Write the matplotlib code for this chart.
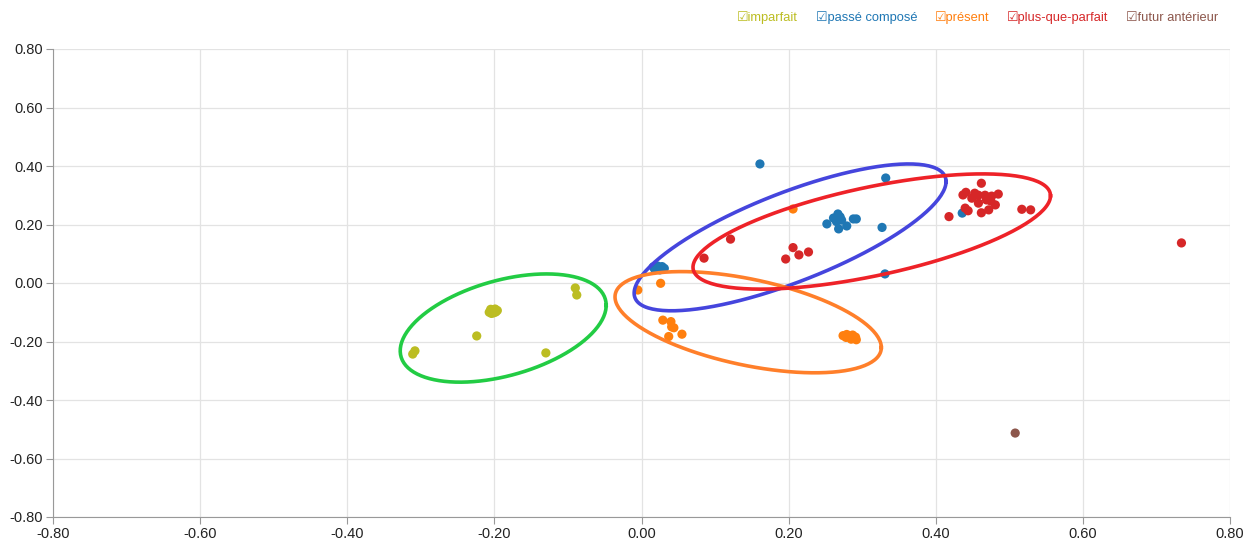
import numpy as np
import matplotlib
matplotlib.use('Agg')
import matplotlib.pyplot as plt

# scatter coordinates for each tense
imparfait_x = [-0.205, -0.202, -0.199, -0.196, -0.207, -0.201, -0.198, -0.204,
               -0.224, -0.308, -0.311, -0.090, -0.088, -0.130]
imparfait_y = [-0.090, -0.092, -0.089, -0.094, -0.100, -0.102, -0.099, -0.104,
               -0.181, -0.232, -0.243, -0.017, -0.041, -0.239]

passe_x = [0.016, 0.022, 0.028, 0.018, 0.025, 0.031, 0.020,
           0.161, 0.332, 0.252, 0.261, 0.267, 0.265, 0.268, 0.279, 0.288,
           0.292, 0.272, 0.270, 0.327, 0.331, 0.436]
passe_y = [0.055, 0.058, 0.056, 0.047, 0.045, 0.050, 0.052,
           0.407, 0.359, 0.202, 0.222, 0.236, 0.210, 0.185, 0.195, 0.219,
           0.219, 0.215, 0.226, 0.190, 0.031, 0.239]

present_x = [0.206, 0.026, -0.005, 0.029, 0.040, 0.041, 0.044, 0.037, 0.055,
             0.274, 0.279, 0.283, 0.287, 0.291, 0.285, 0.278, 0.292]
present_y = [0.253, -0.001, -0.024, -0.127, -0.132, -0.150, -0.153, -0.183, -0.175,
             -0.180, -0.176, -0.182, -0.178, -0.185, -0.192, -0.186, -0.194]

pqp_x = [0.734, 0.085, 0.121, 0.206, 0.196, 0.214, 0.227,
         0.462, 0.418, 0.437, 0.449, 0.458, 0.467, 0.476, 0.485, 0.440, 0.444,
         0.458, 0.462, 0.472, 0.481, 0.469, 0.453, 0.517, 0.529, 0.441, 0.475]
pqp_y = [0.137, 0.085, 0.150, 0.121, 0.082, 0.096, 0.106,
         0.341, 0.227, 0.301, 0.290, 0.300, 0.300, 0.297, 0.304, 0.256, 0.247,
         0.273, 0.240, 0.250, 0.267, 0.284, 0.307, 0.252, 0.250, 0.310, 0.280]

futur_x = [0.508]
futur_y = [-0.513]

# ellipses: centre x, centre y, sd x, sd y, correlation
ell_params = {
    'imparfait': (-0.188, -0.154, 0.140, 0.185, 0.42),
    'passe': (0.202, 0.156, 0.212, 0.251, 0.76),
    'present': (0.145, -0.134, 0.181, 0.173, -0.50),
    'pqp': (0.313, 0.176, 0.243, 0.197, 0.62),
}
ell_colors = {'imparfait': '#22cc44', 'passe': '#4545dd',
              'present': '#ff7f2a', 'pqp': '#ee2228'}

series = [
    ('imparfait', imparfait_x, imparfait_y, '#bcbd22'),
    ('passé composé', passe_x, passe_y, '#1f77b4'),
    ('présent', present_x, present_y, '#ff7f0e'),
    ('plus-que-parfait', pqp_x, pqp_y, '#d62728'),
    ('futur antérieur', futur_x, futur_y, '#8c564b'),
]

ticks = np.round(np.arange(-0.8, 0.81, 0.2), 2) + 0.0


def ellipse_points(cx, cy, sx, sy, rho, n=200):
    cov = np.array([[sx * sx, rho * sx * sy], [rho * sx * sy, sy * sy]])
    L = np.linalg.cholesky(cov)
    t = np.linspace(0, 2 * np.pi, n)
    pts = L @ np.vstack([np.cos(t), np.sin(t)])
    return cx + pts[0], cy + pts[1]


def main():
    plt.rcParams['font.family'] = ['Liberation Sans', 'DejaVu Sans']
    fig = plt.figure(figsize=(12.58, 5.42), dpi=100)
    ax = fig.add_axes([53 / 1258, 1 - 517 / 542, 1177 / 1258, 468 / 542])

    for name, xs, ys, col in series:
        ax.scatter(xs, ys, s=44, color=col, edgecolors='none', zorder=3)

    for key, (cx, cy, sx, sy, rho) in ell_params.items():
        ex, ey = ellipse_points(cx, cy, sx, sy, rho)
        ax.plot(ex, ey, color=ell_colors[key], lw=2.6, zorder=4)

    ax.set_xlim(-0.8, 0.8)
    ax.set_ylim(-0.8, 0.8)
    ax.set_xticks(ticks)
    ax.set_yticks(ticks)
    labels = ['%.2f' % (t + 0.0) if abs(t) > 1e-9 else '0.00' for t in ticks]
    ax.set_xticklabels(labels)
    ax.set_yticklabels(labels)
    ax.grid(True, color='#e3e3e3', lw=0.9)
    ax.set_axisbelow(True)
    for s in ['top', 'right']:
        ax.spines[s].set_visible(False)
    for s in ['left', 'bottom']:
        ax.spines[s].set_color('#999999')
    ax.tick_params(colors='#999999', length=5, labelcolor='#222222',
                   labelsize=10.5, pad=2)

    # legend row with checkbox icons
    leg_x = [737, 816, 935, 1007, 1126]
    for (name, xs, ys, col), px in zip(series, leg_x):
        fig.text(px / 1258, 1 - 18 / 542, '\u2611' + name, color=col,
                 fontsize=9.3, va='center', ha='left')

    fig.savefig('out.png', dpi=100, facecolor='white')


if __name__ == '__main__':
    main()
